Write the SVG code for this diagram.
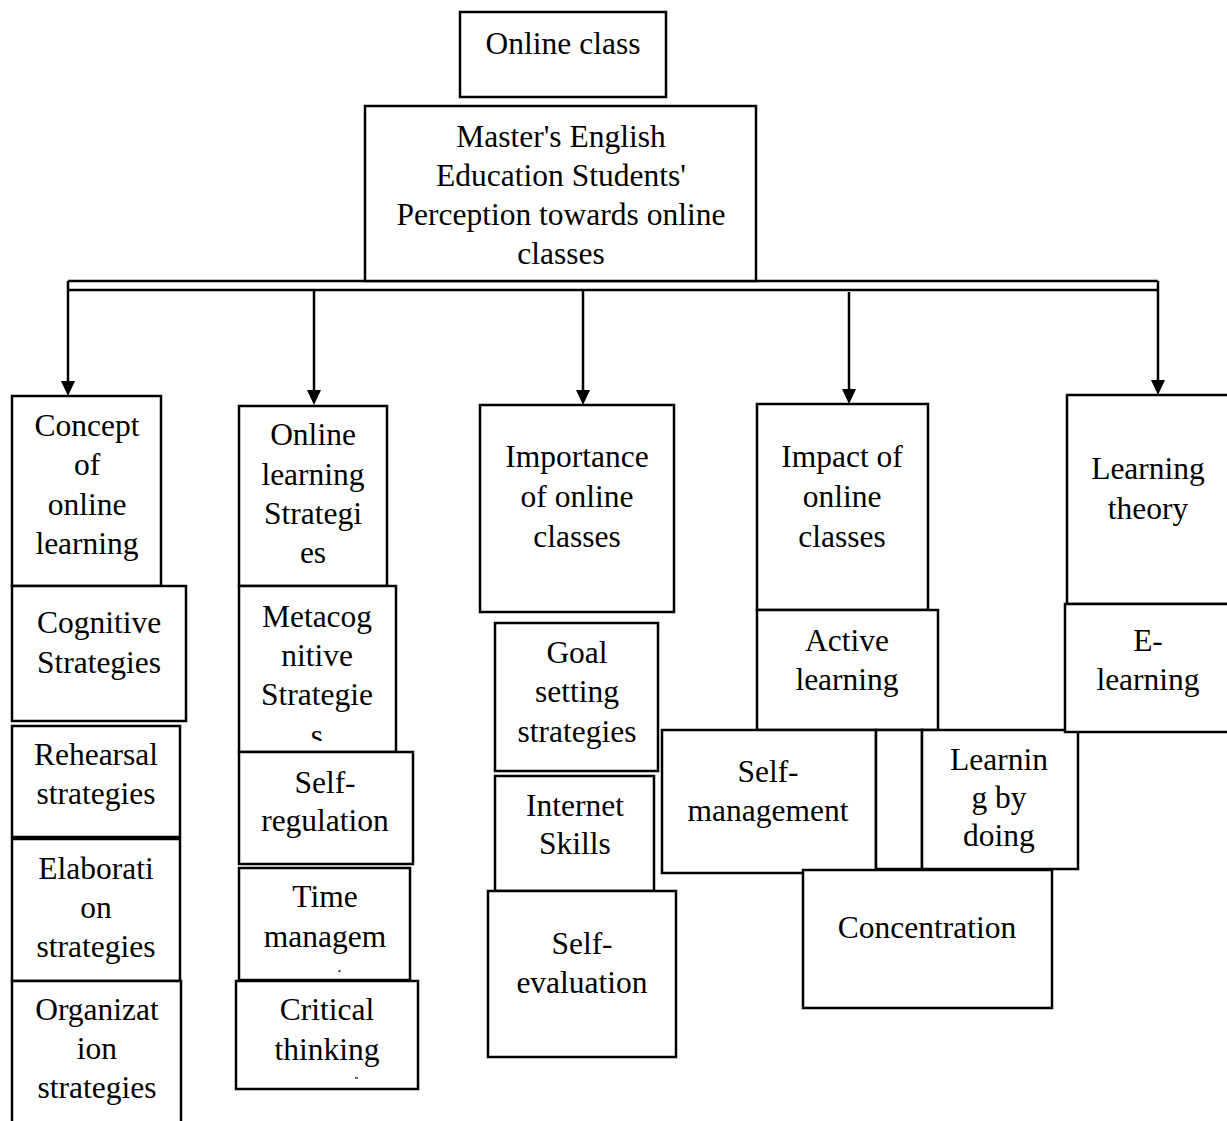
<svg xmlns="http://www.w3.org/2000/svg" width="1227" height="1121" viewBox="0 0 1227 1121">
<style>
.b{fill:#fff;stroke:#000;stroke-width:2.5}
.t{font-family:"Liberation Serif","Times New Roman",serif;font-size:31.5px;fill:#000;text-anchor:middle}
.c{stroke:#000;stroke-width:2.5;fill:none}
</style>
<defs>
<clipPath id="clipMeta"><rect x="239" y="586" width="157" height="155"/></clipPath>
<clipPath id="clipTime"><rect x="239" y="868" width="171" height="104"/></clipPath>
</defs>
<rect width="1227" height="1121" fill="#fff"/>

<g id="connectors">
<line class="c" x1="68" y1="281" x2="1158" y2="281"/>
<line class="c" x1="68" y1="290" x2="1158" y2="290"/>
<line class="c" x1="68" y1="281" x2="68" y2="382"/>
<line class="c" x1="1158" y1="281" x2="1158" y2="381"/>
<line class="c" x1="314" y1="290" x2="314" y2="391"/>
<line class="c" x1="583" y1="290" x2="583" y2="391"/>
<line class="c" x1="849" y1="292" x2="849" y2="390"/>
<path d="M61,381 L75,381 L68,396 Z" fill="#000"/>
<path d="M1151,380 L1165,380 L1158,395 Z" fill="#000"/>
<path d="M307,390 L321,390 L314,405 Z" fill="#000"/>
<path d="M576,390 L590,390 L583,405 Z" fill="#000"/>
<path d="M842,389 L856,389 L849,404 Z" fill="#000"/>
</g>

<g id="online-class">
<rect class="b" x="460" y="12" width="206" height="85"/>
<text class="t" x="563" y="54">Online class</text>
</g>

<g id="perception">
<rect class="b" x="365" y="106" width="391" height="175"/>
<text class="t" x="561" y="147">Master's English</text>
<text class="t" x="561" y="186">Education Students'</text>
<text class="t" x="561" y="225">Perception towards online</text>
<text class="t" x="561" y="264">classes</text>
</g>

<g id="concept">
<rect class="b" x="12" y="396" width="149" height="190"/>
<text class="t" x="87" y="436">Concept</text>
<text class="t" x="87" y="475">of</text>
<text class="t" x="87" y="515">online</text>
<text class="t" x="87" y="554">learning</text>
</g>
<g id="cognitive">
<rect class="b" x="12" y="586" width="174" height="135"/>
<text class="t" x="99" y="633">Cognitive</text>
<text class="t" x="99" y="673">Strategies</text>
</g>
<g id="rehearsal">
<rect class="b" x="12" y="726" width="168" height="111"/>
<text class="t" x="96" y="765">Rehearsal</text>
<text class="t" x="96" y="804">strategies</text>
</g>
<g id="elaboration">
<rect class="b" x="12" y="839" width="168" height="142"/>
<text class="t" x="96" y="879">Elaborati</text>
<text class="t" x="96" y="918">on</text>
<text class="t" x="96" y="957">strategies</text>
</g>
<g id="organization">
<rect class="b" x="12" y="981" width="169" height="150"/>
<text class="t" x="97" y="1020">Organizat</text>
<text class="t" x="97" y="1059">ion</text>
<text class="t" x="97" y="1098">strategies</text>
</g>

<g id="online-strategies">
<rect class="b" x="239" y="406" width="148" height="180"/>
<text class="t" x="313" y="445">Online</text>
<text class="t" x="313" y="485">learning</text>
<text class="t" x="313" y="524">Strategi</text>
<text class="t" x="313" y="563">es</text>
</g>
<g id="metacognitive">
<rect class="b" x="239" y="586" width="157" height="166"/>
<g clip-path="url(#clipMeta)">
<text class="t" x="317" y="627">Metacog</text>
<text class="t" x="317" y="666">nitive</text>
<text class="t" x="317" y="705">Strategie</text>
<text class="t" x="317" y="746">s</text>
</g>
</g>
<g id="self-regulation">
<rect class="b" x="239" y="752" width="174" height="112"/>
<text class="t" x="325" y="793">Self-</text>
<text class="t" x="325" y="831">regulation</text>
</g>
<g id="time-management">
<rect class="b" x="239" y="868" width="171" height="112"/>
<g clip-path="url(#clipTime)">
<text class="t" x="325" y="907">Time</text>
<text class="t" x="325" y="947">managem</text>
<text class="t" x="325" y="988">ent</text>
</g>
</g>
<g id="critical-thinking">
<rect class="b" x="236" y="981" width="182" height="108"/>
<text class="t" x="327" y="1020">Critical</text>
<text class="t" x="327" y="1060">thinking</text>
<line x1="355" y1="1078" x2="358" y2="1078" stroke="#000" stroke-width="1.2"/>
</g>

<g id="importance">
<rect class="b" x="480" y="405" width="194" height="207"/>
<text class="t" x="577" y="467">Importance</text>
<text class="t" x="577" y="507">of online</text>
<text class="t" x="577" y="547">classes</text>
</g>
<g id="goal-setting">
<rect class="b" x="495" y="623" width="163" height="148"/>
<text class="t" x="577" y="663">Goal</text>
<text class="t" x="577" y="702">setting</text>
<text class="t" x="577" y="742">strategies</text>
</g>
<g id="internet-skills">
<rect class="b" x="495" y="776" width="159" height="115"/>
<text class="t" x="575" y="816">Internet</text>
<text class="t" x="575" y="854">Skills</text>
</g>
<g id="self-evaluation">
<rect class="b" x="488" y="891" width="188" height="166"/>
<text class="t" x="582" y="954">Self-</text>
<text class="t" x="582" y="993">evaluation</text>
</g>

<g id="impact">
<rect class="b" x="757" y="404" width="171" height="206"/>
<text class="t" x="842" y="467">Impact of</text>
<text class="t" x="842" y="507">online</text>
<text class="t" x="842" y="547">classes</text>
</g>
<g id="active-learning">
<rect class="b" x="757" y="610" width="181" height="120"/>
<text class="t" x="847" y="651">Active</text>
<text class="t" x="847" y="690">learning</text>
</g>
<g id="self-management">
<rect class="b" x="662" y="730" width="214" height="143"/>
<text class="t" x="768" y="782">Self-</text>
<text class="t" x="768" y="821">management</text>
</g>
<g id="blank">
<rect class="b" x="876" y="730" width="46" height="139"/>
</g>
<g id="learning-by-doing">
<rect class="b" x="922" y="730" width="156" height="139"/>
<text class="t" x="999" y="770">Learnin</text>
<text class="t" x="999" y="808">g by</text>
<text class="t" x="999" y="846">doing</text>
</g>
<g id="concentration">
<rect class="b" x="803" y="870" width="249" height="138"/>
<text class="t" x="927" y="938">Concentration</text>
</g>

<g id="learning-theory">
<rect class="b" x="1067" y="395" width="170" height="209"/>
<text class="t" x="1148" y="479">Learning</text>
<text class="t" x="1148" y="519">theory</text>
</g>
<g id="e-learning">
<rect class="b" x="1065" y="604" width="172" height="128"/>
<text class="t" x="1148" y="651">E-</text>
<text class="t" x="1148" y="690">learning</text>
</g>
</svg>
